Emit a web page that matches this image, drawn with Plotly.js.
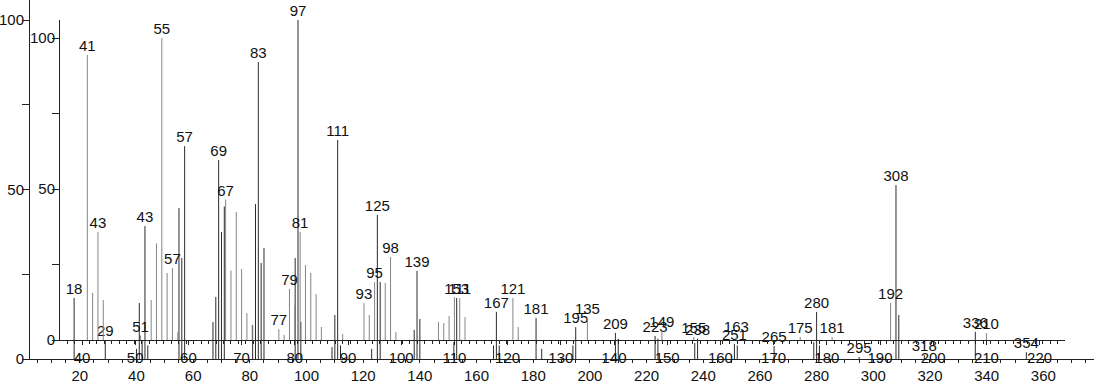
<!DOCTYPE html>
<html>
<head>
<meta charset="utf-8">
<script src="https://cdn.plot.ly/plotly-3.0.1.min.js"></script>
<style>html,body{margin:0;padding:0;background:#fff;}#chart{width:1094px;height:384px;}</style>
</head>
<body>
<div id="chart"></div>
<script>
// Spectrum A (outer axes, m/z 20-360)
const mzA  = [18, 29, 40, 41, 42, 43, 44, 55, 56, 57, 67, 68, 69, 70, 71, 81, 82, 83, 84, 85, 96, 97, 98, 109, 110, 111, 112, 123, 125, 126, 138, 139, 140, 152, 153, 166, 167, 168, 181, 183, 194, 195, 209, 210, 223, 224, 237, 238, 251, 252, 265, 279, 280, 281, 295, 308, 309, 318, 336, 354];
const intA = [18, 5.6, 3, 16.5, 5.6, 39.2, 4, 44.5, 29.8, 62.8, 10.9, 18.3, 58.7, 37.5, 45, 10, 45.7, 87.6, 28.3, 32.7, 29.8, 100, 11, 3.5, 13, 64.6, 4, 3, 42.5, 22.7, 8.6, 26, 11.8, 5, 18, 4, 13.9, 4, 12.1, 3, 4, 9.4, 7.7, 6, 6.8, 6, 4.7, 6, 4.4, 4, 3.8, 5, 13.9, 4, 0.6, 51.3, 13, 1.2, 8, 2];
const labA = [18, 29, 43, 57, 69, 83, 97, 111, 125, 139, 153, 167, 181, 195, 209, 223, 238, 251, 265, 280, 295, 308, 318, 336, 354];

// Spectrum B (inner axes, m/z 40-220)
const mzB  = [41, 42, 43, 44, 51, 53, 54, 55, 56, 57, 58, 67, 68, 69, 70, 71, 72, 77, 78, 79, 80, 81, 82, 83, 84, 85, 89, 93, 94, 95, 97, 98, 99, 107, 108, 109, 110, 111, 112, 121, 122, 135, 149, 155, 163, 175, 181, 192, 210];
const intB = [94.4, 15.6, 35.8, 13.2, 1.5, 13.2, 32, 100, 22.2, 23.8, 2.6, 46.5, 23, 42.4, 23.5, 8.9, 5, 3.6, 1.7, 16.9, 11.6, 35.8, 24.8, 22.2, 15.2, 4.3, 2, 12.2, 8.3, 19.2, 18.9, 27.5, 2.6, 6, 5.6, 8, 14.2, 13.9, 7.6, 13.9, 4.3, 7.3, 3, 1, 1.5, 1, 1, 12.3, 2.3];
const labB = [41, 43, 51, 55, 57, 67, 77, 79, 81, 93, 95, 98, 111, 121, 135, 149, 155, 163, 175, 181, 192, 210];

const ticksA = [20, 40, 60, 80, 100, 120, 140, 160, 180, 200, 220, 240, 260, 280, 300, 320, 340, 360];
const ticksB = [40, 50, 60, 70, 80, 90, 100, 110, 120, 130, 140, 150, 160, 170, 180, 190, 200, 210, 220];
const yTicks = [0, 50, 100];

function sticks(mz, inten) {
  const xs = [], ys = [];
  mz.forEach((m, i) => { xs.push(m, m, null); ys.push(0, inten[i], null); });
  return {xs, ys};
}
function labelY(mz, inten, labs) {
  return labs.map(l => inten[mz.indexOf(l)]);
}

const W = 1094, H = 384;
const FONT = '"Liberation Sans", Arial, sans-serif';
const sA = sticks(mzA, intA), sB = sticks(mzB, intB);

const traces = [
  {x: sA.xs, y: sA.ys, xaxis: 'x', yaxis: 'y', mode: 'lines', line: {color: '#2a2a2a', width: 1}, hoverinfo: 'skip'},
  {x: labA, y: labelY(mzA, intA, labA), text: labA.map(String), xaxis: 'x', yaxis: 'y', mode: 'text',
   textposition: 'top center', textfont: {family: FONT, size: 15, color: '#111'}, cliponaxis: false, hoverinfo: 'skip'},
  {x: sB.xs, y: sB.ys, xaxis: 'x2', yaxis: 'y2', mode: 'lines', line: {color: '#858585', width: 1}, hoverinfo: 'skip'},
  {x: labB, y: labelY(mzB, intB, labB), text: labB.map(String), xaxis: 'x2', yaxis: 'y2', mode: 'text',
   textposition: 'top center', textfont: {family: FONT, size: 15, color: '#111'}, cliponaxis: false, hoverinfo: 'skip'}
];

// pixel geometry
const axA = {x0: 30, x1: 1094, base: 359, top: 0, pxPerMz: 2.834, mz0px: 23.1, pxPerPct: 3.39};
const axB = {x0: 60, x1: 1065, base: 340, top: 20, pxPerMz: 5.32, mz40px: 82, pxPerPct: 3.02};

const common = {showgrid: false, zeroline: false, showline: true, linecolor: '#222', linewidth: 1,
  ticks: 'outside', tickcolor: '#222', tickfont: {family: FONT, size: 15, color: '#111'}, fixedrange: true};

const layout = {
  width: W, height: H, margin: {l: 0, r: 0, t: 0, b: 0},
  paper_bgcolor: '#fff', plot_bgcolor: 'rgba(0,0,0,0)', showlegend: false,
  xaxis: Object.assign({}, common, {
    domain: [axA.x0 / W, axA.x1 / W], anchor: 'y',
    range: [(axA.x0 - axA.mz0px) / axA.pxPerMz, (axA.x1 - axA.mz0px) / axA.pxPerMz],
    tickmode: 'array', tickvals: ticksA, ticktext: ticksA.map(String), ticklen: 3,
    minor: {dtick: 5, tick0: 0, ticklen: 3, ticks: 'outside', tickcolor: '#222'}
  }),
  yaxis: Object.assign({}, common, {
    domain: [(H - axA.base) / H, (H - axA.top) / H], anchor: 'x',
    range: [0, (axA.base - axA.top) / axA.pxPerPct],
    tickmode: 'array', tickvals: yTicks, ticktext: yTicks.map(String), ticklen: 7, ticklabelstandoff: -5,
    minor: {tickvals: [25, 75], ticklen: 7, ticks: 'outside', tickcolor: '#222'}
  }),
  xaxis2: Object.assign({}, common, {
    domain: [axB.x0 / W, axB.x1 / W], anchor: 'y2',
    range: [40 + (axB.x0 - axB.mz40px) / axB.pxPerMz, 40 + (axB.x1 - axB.mz40px) / axB.pxPerMz],
    tickmode: 'array', tickvals: ticksB, ticktext: ticksB.map(String), ticklen: 4,
    minor: {dtick: 1.4, tick0: 40, ticklen: 3, ticks: 'outside', tickcolor: '#222'}
  }),
  yaxis2: Object.assign({}, common, {
    domain: [(H - axB.base) / H, (H - axB.top) / H], anchor: 'x2',
    range: [0, (axB.base - axB.top) / axB.pxPerPct],
    tickmode: 'array', tickvals: yTicks, ticktext: yTicks.map(String), ticklen: 7, ticklabelstandoff: -6,
    minor: {tickvals: [25, 75], ticklen: 7, ticks: 'outside', tickcolor: '#222'}
  })
};

Plotly.newPlot('chart', traces, layout, {displayModeBar: false, staticPlot: true});
</script>
</body>
</html>
